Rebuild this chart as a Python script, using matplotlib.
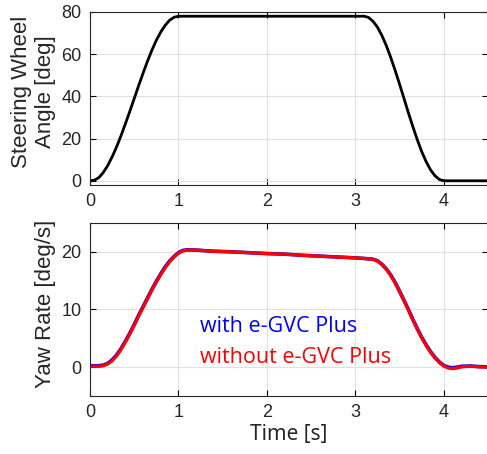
import matplotlib.pyplot as plt
import numpy as np

# Steering wheel angle [deg]
t_steer = [0.00, 0.05, 0.10, 0.15, 0.20, 0.25, 0.30, 0.35, 0.40, 0.45, 0.50,
           0.55, 0.60, 0.65, 0.70, 0.75, 0.80, 0.85, 0.90, 0.95, 1.00,
           3.10, 3.15, 3.20, 3.25, 3.30, 3.35, 3.40, 3.45, 3.50, 3.55,
           3.60, 3.65, 3.70, 3.75, 3.80, 3.85, 3.90, 3.95, 4.00, 4.50]
steer = [0.0, 0.3, 1.5, 3.9, 7.2, 11.3, 16.0, 21.3, 27.0, 32.9, 39.0,
         45.1, 51.0, 56.7, 61.9, 66.6, 70.5, 73.7, 76.1, 77.5, 78.0,
         78.0, 77.4, 75.6, 72.8, 68.9, 64.1, 58.5, 52.3, 45.8, 39.0,
         32.2, 25.7, 19.5, 13.9, 9.1, 5.2, 2.4, 0.6, 0.0, 0.0]

# Yaw rate [deg/s]
t_yaw = [0.00, 0.10, 0.15, 0.20, 0.25, 0.30, 0.35, 0.40, 0.45, 0.50, 0.55,
         0.60, 0.65, 0.70, 0.75, 0.80, 0.85, 0.90, 0.95, 1.00, 1.05, 1.10,
         1.20, 1.40, 1.60, 1.80, 2.00, 2.20, 2.40, 2.60, 2.80, 3.00, 3.10,
         3.20, 3.25, 3.30, 3.35, 3.40, 3.45, 3.50, 3.55, 3.60, 3.65, 3.70,
         3.75, 3.80, 3.85, 3.90, 3.95, 4.00, 4.05, 4.10, 4.15, 4.20, 4.30,
         4.40, 4.50]
yaw_with = [0.25, 0.25, 0.35, 0.65, 1.25, 2.1, 3.2, 4.5, 5.9, 7.4, 9.0,
            10.5, 12.0, 13.5, 14.9, 16.2, 17.4, 18.4, 19.2, 19.85, 20.25, 20.35,
            20.3, 20.1, 20.0, 19.85, 19.7, 19.6, 19.4, 19.25, 19.1, 18.95, 18.85,
            18.72, 18.45, 17.85, 17.05, 16.0, 14.7, 13.2, 11.6, 10.0, 8.3, 6.7,
            5.2, 3.9, 2.7, 1.7, 0.9, 0.3, 0.0, -0.1, 0.0, 0.15, 0.2,
            0.1, 0.05]
yaw_without = [0.15, 0.15, 0.25, 0.55, 1.1, 1.95, 3.05, 4.35, 5.75, 7.25, 8.85,
               10.35, 11.85, 13.35, 14.75, 16.05, 17.25, 18.25, 19.1, 19.75, 20.15, 20.3,
               20.3, 20.1, 20.0, 19.85, 19.7, 19.6, 19.4, 19.25, 19.1, 18.95, 18.85,
               18.7, 18.4, 17.8, 17.0, 15.9, 14.6, 13.1, 11.5, 9.9, 8.2, 6.6,
               5.1, 3.8, 2.6, 1.6, 0.8, 0.2, -0.15, -0.25, -0.15, 0.05, 0.15,
               0.05, 0.0]

txt = '#262626'
tick_font = 'Liberation Sans'
fig = plt.figure(figsize=(4.87, 4.54), dpi=100)
ax1 = fig.add_axes([90/487, 1 - 185/454, 398/487, 173/454])
ax2 = fig.add_axes([90/487, 1 - 396/454, 398/487, 173/454])

ax1.plot(t_steer, steer, color='black', lw=2)
ax1.set_ylim(-2, 80)
ax1.set_yticks([0, 20, 40, 60, 80])
ax1.set_ylabel('Steering Wheel\nAngle [deg]', fontsize=16, family=tick_font,
               color=txt, linespacing=1.2)
ax1.yaxis.set_label_coords(-0.085, 0.54)

ax2.plot(t_yaw, yaw_with, color='blue', lw=2.6)
ax2.plot(t_yaw, yaw_without, color='red', lw=2.3)
ax2.set_ylim(-5, 25)
ax2.set_yticks([0, 10, 20])
ax2.set_ylabel('Yaw Rate [deg/s]', fontsize=16, family=tick_font, color=txt)
ax2.yaxis.set_label_coords(-0.085, 0.53)
ax2.set_xlabel('Time [s]', fontsize=15, family='Noto Sans', color=txt, labelpad=2)

ax2.text(0.277, 0.40, 'with e-GVC Plus', transform=ax2.transAxes, color='blue',
         fontsize=15.5, family='Open Sans', va='center', ha='left')
ax2.text(0.277, 0.225, 'without e-GVC Plus', transform=ax2.transAxes, color='red',
         fontsize=15.5, family='Open Sans', va='center', ha='left')

for ax in (ax1, ax2):
    ax.set_xlim(0, 4.5)
    ax.set_xticks([0, 1, 2, 3, 4])
    ax.grid(True, color='#e0e0e0', lw=0.8)
    ax.set_axisbelow(True)
    ax.tick_params(direction='in', top=True, right=True, length=4, width=0.8,
                   labelsize=13, labelcolor=txt, pad=6)
    for lab in ax.get_xticklabels() + ax.get_yticklabels():
        lab.set_family(tick_font)
    for s in ax.spines.values():
        s.set_color(txt)
        s.set_linewidth(0.8)

fig.savefig('out.png', dpi=100)
